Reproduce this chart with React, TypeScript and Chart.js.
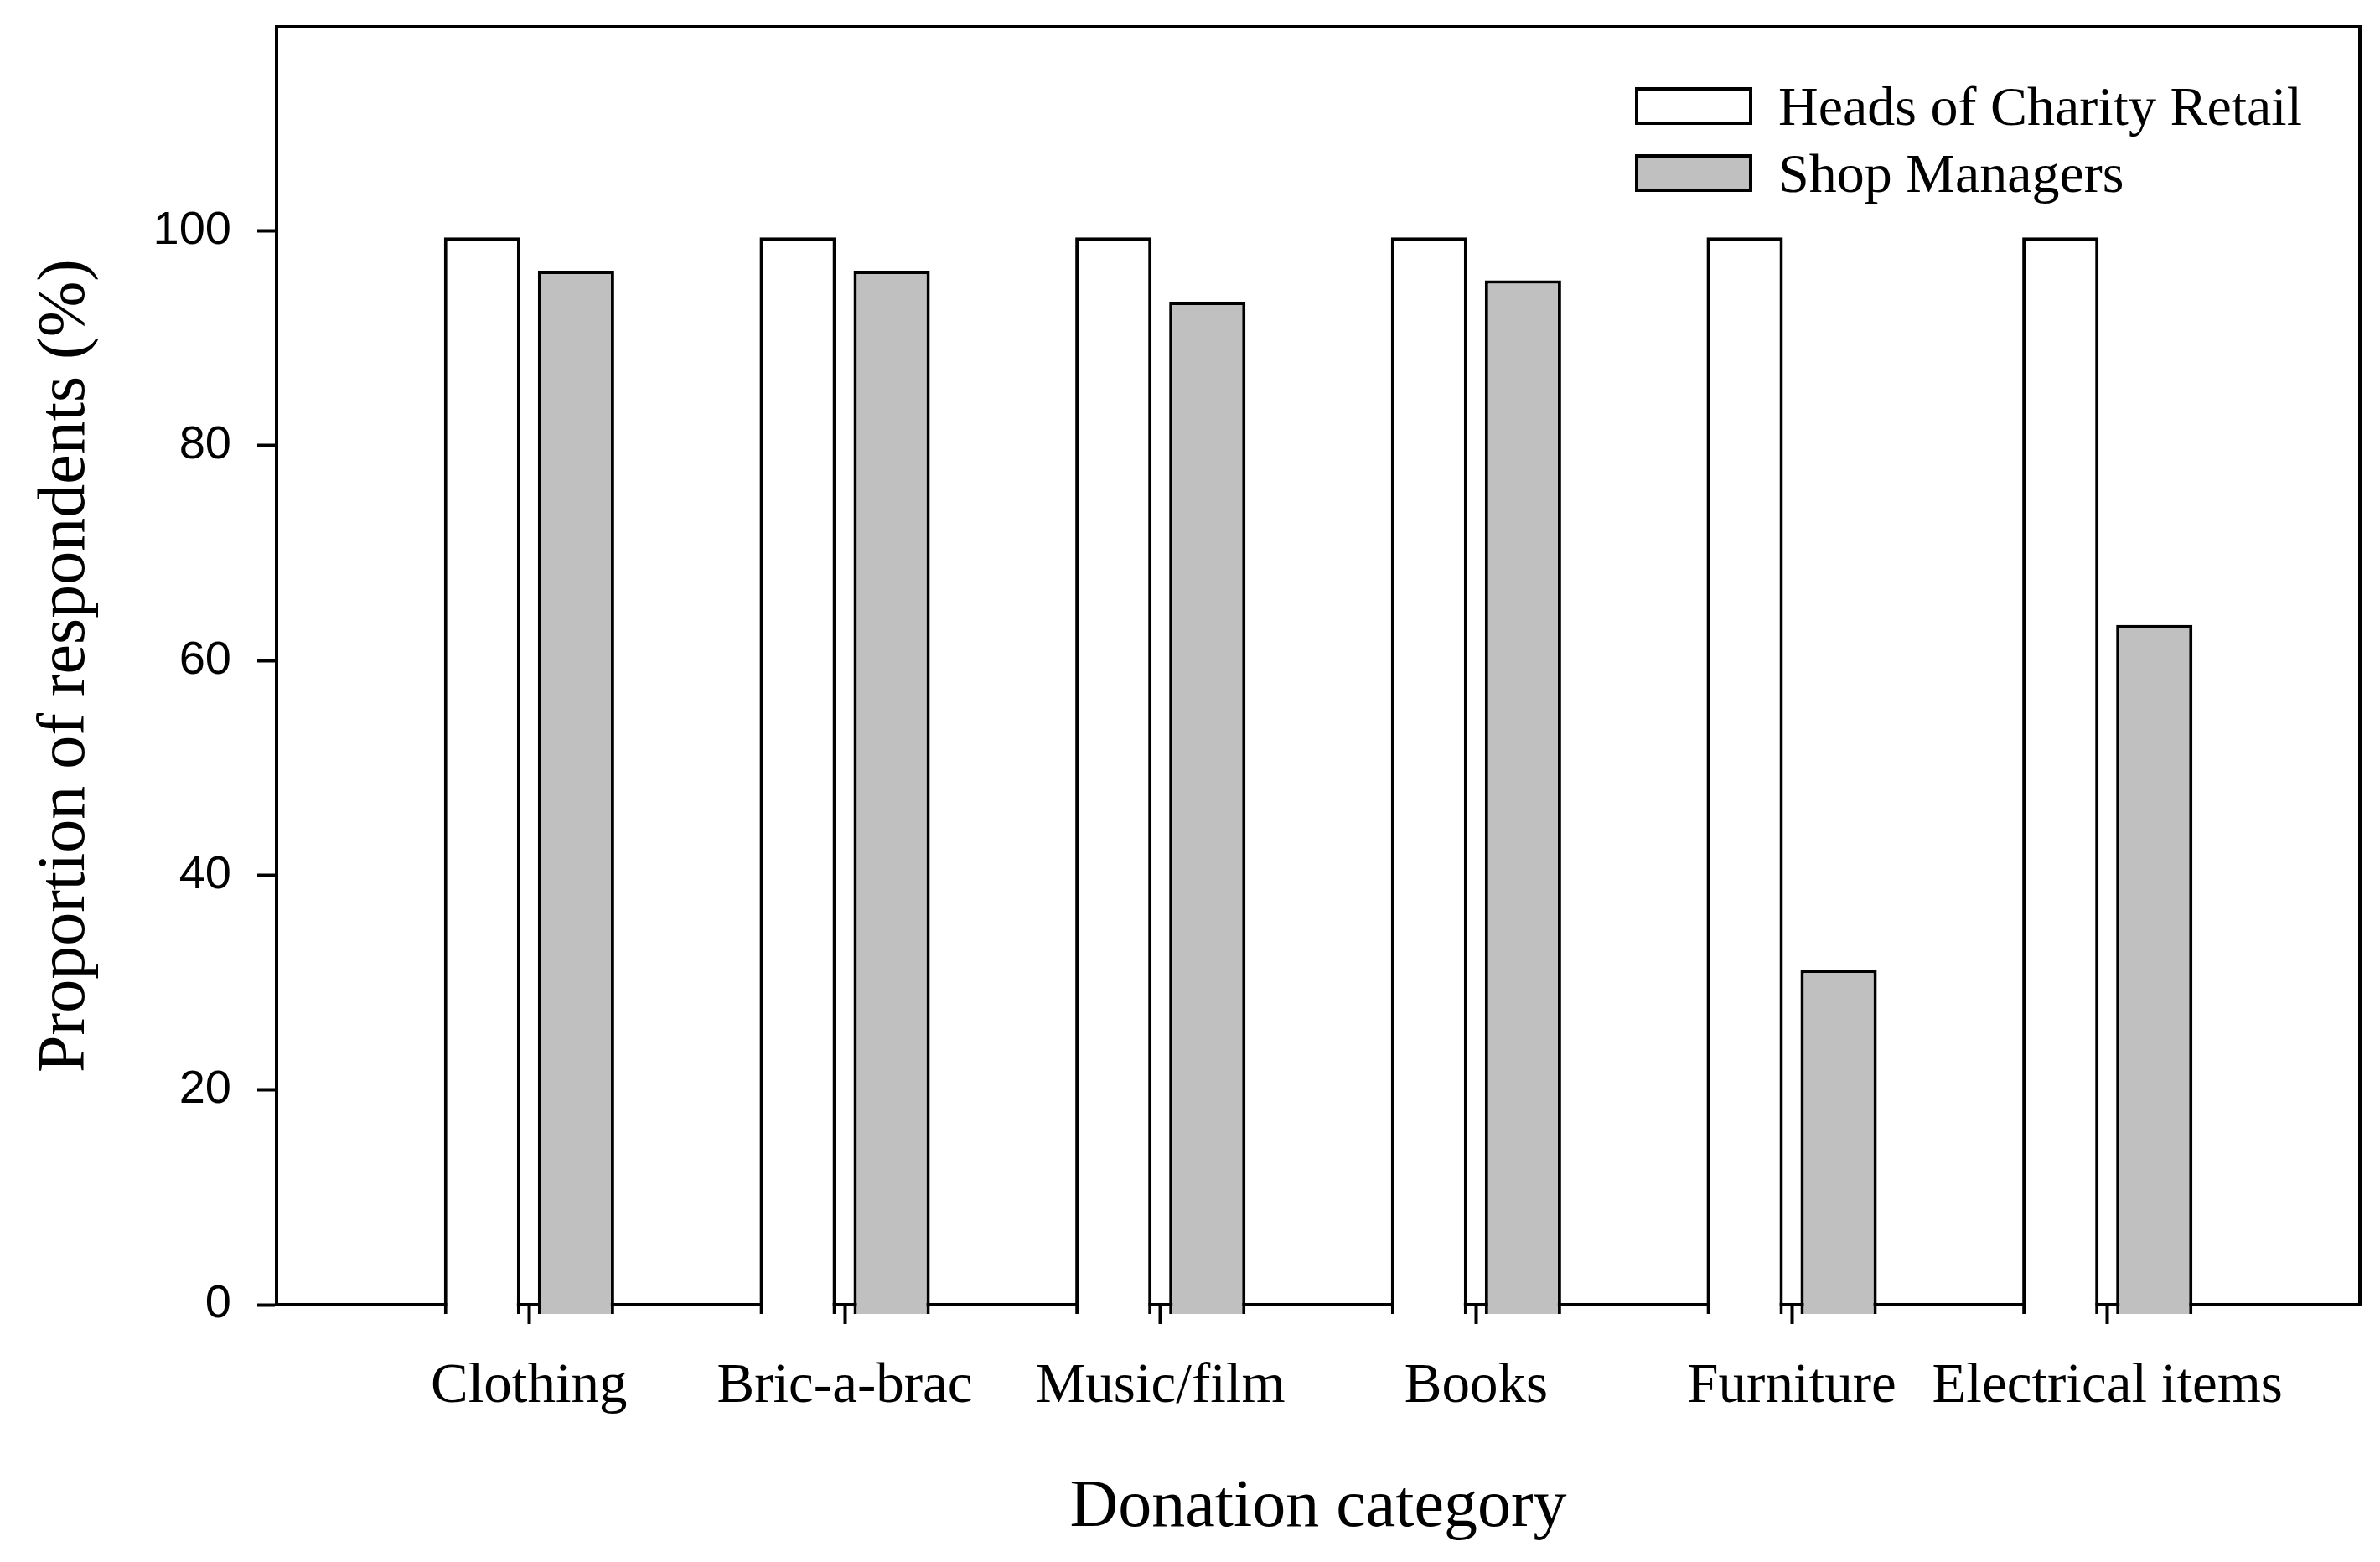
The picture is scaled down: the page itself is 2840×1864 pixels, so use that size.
import React, { useEffect, useRef } from 'react';
import { Chart, registerables } from 'chart.js';

Chart.register(...registerables);

// ---- Data ----
const categories = ['Clothing', 'Bric-a-brac', 'Music/film', 'Books', 'Furniture', 'Electrical items'];
const seriesLabels = ['Heads of Charity Retail', 'Shop Managers'];
const headsOfCharityRetail = [99.4, 99.4, 99.4, 99.4, 99.4, 99.4];
const shopManagers = [96.3, 96.3, 93.4, 95.4, 31.2, 63.3];
const yTickValues = [0, 20, 40, 60, 80, 100];

const SERIF = '"Liberation Serif", "Times New Roman", serif';
const SANS = '"Liberation Sans", Arial, sans-serif';
const LINE = 4;

const framePlugin = {
  id: 'frame',
  afterDraw(chart: any) {
    const { ctx, chartArea } = chart;
    const { left, right, top, bottom } = chartArea;
    ctx.save();
    ctx.strokeStyle = '#000';
    ctx.lineWidth = LINE;
    ctx.lineCap = 'square';
    ctx.beginPath();
    ctx.moveTo(Math.round(left), Math.round(top));
    ctx.lineTo(Math.round(right), Math.round(top));
    ctx.lineTo(Math.round(right), Math.round(bottom));
    ctx.stroke();
    ctx.restore();
  },
};

const insideLegendPlugin = {
  id: 'insideLegend',
  afterDraw(chart: any) {
    const { ctx, chartArea } = chart;
    const boxW = 140;
    const boxH = 45;
    const rowGap = 80;
    const x0 = chartArea.right - 865;
    const y0 = chartArea.top + 72;
    ctx.save();
    ctx.font = '66px ' + SERIF;
    ctx.textBaseline = 'middle';
    ctx.textAlign = 'left';
    chart.data.datasets.forEach((ds: any, i: number) => {
      const y = y0 + i * rowGap;
      ctx.fillStyle = ds.backgroundColor;
      ctx.fillRect(x0, y, boxW, boxH);
      ctx.lineWidth = 4;
      ctx.strokeStyle = '#000';
      ctx.strokeRect(x0 + 2, y + 2, boxW - 4, boxH - 4);
      ctx.fillStyle = '#000';
      ctx.fillText(ds.label, x0 + boxW + 31, y + boxH / 2 + 5);
    });
    ctx.restore();
  },
};

export default function App() {
  const canvasRef = useRef<HTMLCanvasElement | null>(null);

  useEffect(() => {
    document.body.style.margin = '0';
    const canvas = canvasRef.current;
    if (!canvas) return;

    const barCommon = {
      borderColor: '#000000',
      borderWidth: LINE,
      base: -0.85,
      clip: false,
      categoryPercentage: 0.595,
      barPercentage: 0.8125,
    };

    const chart = new Chart(canvas, {
      type: 'bar',
      data: {
        datasets: [
          {
            label: seriesLabels[0],
            data: headsOfCharityRetail.map((v, i) => ({ x: i, y: v })),
            backgroundColor: '#ffffff',
            ...barCommon,
          } as any,
          {
            label: seriesLabels[1],
            data: shopManagers.map((v, i) => ({ x: i, y: v })),
            backgroundColor: '#c0c0c0',
            ...barCommon,
          } as any,
        ],
      },
      options: {
        responsive: false,
        animation: false,
        devicePixelRatio: 1,
        layout: { padding: { top: 32, right: 24, left: 0, bottom: 0 } },
        plugins: {
          legend: { display: false },
          tooltip: { enabled: false },
          title: { display: false },
        },
        scales: {
          x: {
            type: 'linear',
            min: -0.8,
            max: 5.8,
            offset: false,
            z: 1,
            afterFit: (scale: any) => {
              scale.height = 307;
              scale.paddingLeft = 0;
              scale.paddingRight = 0;
            },
            afterBuildTicks: (scale: any) => {
              scale.ticks = categories.map((_, i) => ({ value: i }));
            },
            grid: {
              display: true,
              offset: false,
              drawOnChartArea: false,
              drawTicks: true,
              tickLength: 23,
              tickWidth: LINE,
              tickColor: '#000',
            },
            border: { display: true, color: '#000', width: LINE },
            ticks: {
              autoSkip: false,
              maxRotation: 0,
              minRotation: 0,
              padding: 35,
              color: '#000',
              font: { family: SERIF, size: 67 },
              callback: (value: any) => categories[Math.round(Number(value))] ?? '',
            },
            title: {
              display: true,
              text: 'Donation category',
              color: '#000',
              font: { family: SERIF, size: 80 },
              padding: { top: 0, bottom: 16 },
            },
          },
          y: {
            type: 'linear',
            min: 0,
            max: 119,
            afterFit: (scale: any) => {
              scale.width = 330;
              scale.paddingTop = 0;
              scale.paddingBottom = 0;
            },
            afterBuildTicks: (scale: any) => {
              scale.ticks = yTickValues.map((v) => ({ value: v }));
            },
            grid: {
              display: true,
              drawOnChartArea: false,
              drawTicks: true,
              tickLength: 23,
              tickWidth: LINE,
              tickColor: '#000',
            },
            border: { display: true, color: '#000', width: LINE },
            ticks: {
              autoSkip: false,
              padding: 31,
              color: '#000',
              font: { family: SANS, size: 56 },
              callback: (value: any) => String(value),
            },
            title: {
              display: true,
              text: 'Proportion of respondents (%)',
              color: '#000',
              font: { family: SERIF, size: 80 },
              padding: { top: 31, bottom: 0 },
            },
          },
        },
      } as any,
      plugins: [framePlugin, insideLegendPlugin],
    });

    return () => {
      chart.destroy();
    };
  }, []);

  return (
    <div style={{ width: 2840, height: 1864, background: '#fff' }}>
      <canvas ref={canvasRef} width={2840} height={1864} style={{ display: 'block', width: 2840, height: 1864 }} />
    </div>
  );
}
